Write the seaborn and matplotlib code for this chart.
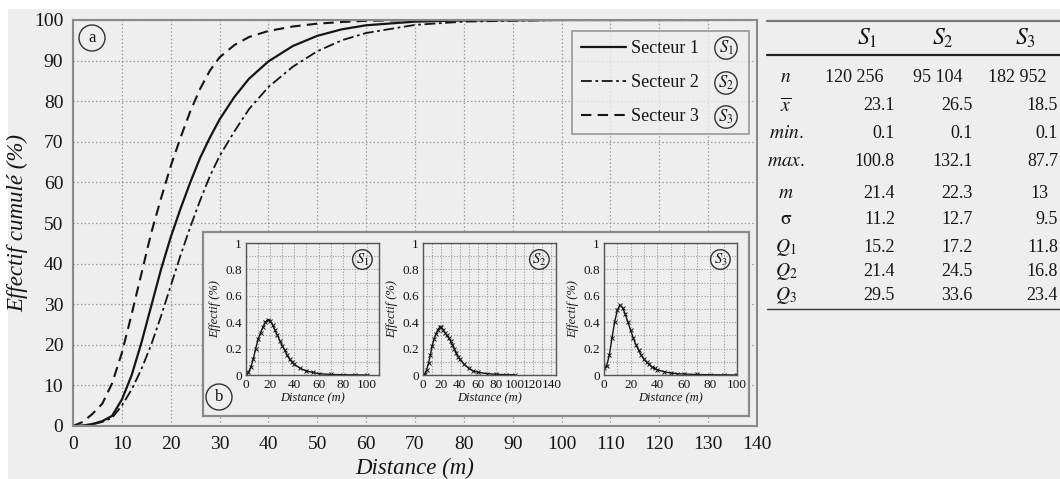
import numpy as np
import pandas as pd
import matplotlib
matplotlib.use("Agg")
import matplotlib.pyplot as plt
import seaborn as sns
from matplotlib.patches import Rectangle
from matplotlib.lines import Line2D

# ---------------- data ----------------
distance = [0, 2, 4, 6, 8, 10, 12, 14, 16, 18, 20, 22, 24, 26, 28, 30, 33, 36, 40,
            45, 50, 55, 60, 70, 80, 100, 130]
cum_s1 = [0, 0.1, 0.5, 1.2, 2.5, 6.5, 12.5, 20.5, 29.5, 38.5, 46.5, 53.5, 60, 66,
          71, 75.5, 81, 85.5, 89.8, 93.6, 96.1, 97.7, 98.7, 99.6, 99.9, 100, 100]
cum_s2 = [0, 0.1, 0.4, 1, 2, 5, 9, 14, 20, 27, 34.5, 42, 49, 55.5, 61.5, 66.5, 72.5,
          78, 83.5, 88.5, 92.3, 95, 96.8, 98.8, 99.6, 100, 100]
cum_s3 = [0, 1, 3, 5.5, 10.5, 18, 27.5, 37.5, 47.5, 56, 64, 71, 77.5, 83, 87.5, 90.8,
          93.8, 95.8, 97.3, 98.4, 99.1, 99.5, 99.8, 100, 100, 100, 100]
series_names = ["Secteur 1", "Secteur 2", "Secteur 3"]

hist_dist = [0, 2, 4, 6, 8, 10, 12, 14, 16, 18, 20, 22, 24, 26, 28, 30, 32, 34, 36,
             38, 40, 45, 50, 55, 60, 70, 80, 90, 100]
eff_s1 = [0, 0.02, 0.06, 0.12, 0.2, 0.27, 0.32, 0.36, 0.4, 0.42, 0.41, 0.38, 0.34,
          0.3, 0.26, 0.22, 0.19, 0.15, 0.12, 0.1, 0.08, 0.05, 0.03, 0.02, 0.01,
          0.004, 0.002, 0.001, 0]
eff_s2 = [0, 0.01, 0.04, 0.09, 0.15, 0.22, 0.27, 0.31, 0.34, 0.36, 0.36, 0.34, 0.32,
          0.3, 0.28, 0.26, 0.23, 0.2, 0.17, 0.14, 0.12, 0.08, 0.05, 0.03, 0.02,
          0.01, 0.005, 0.003, 0.002]
eff_s3 = [0.05, 0.07, 0.15, 0.28, 0.4, 0.49, 0.53, 0.51, 0.46, 0.4, 0.34, 0.28, 0.23,
          0.19, 0.15, 0.12, 0.1, 0.08, 0.06, 0.05, 0.04, 0.025, 0.015, 0.01, 0.007,
          0.004, 0.002, 0.001, 0]

table_cols = [r"$S_1$", r"$S_2$", r"$S_3$"]
table_rows = [r"$n$", r"$\overline{x}$", r"$min.$", r"$max.$", r"$m$", r"$\mathrm{\sigma}$",
              r"$Q_1$", r"$Q_2$", r"$Q_3$"]
n_counts = [120256, 95104, 182952]
means = [23.1, 26.5, 18.5]
mins = [0.1, 0.1, 0.1]
maxs = [100.8, 132.1, 87.7]
medians = [21.4, 22.3, 13]
sigmas = [11.2, 12.7, 9.5]
q1 = [15.2, 17.2, 11.8]
q2 = [21.4, 24.5, 16.8]
q3 = [29.5, 33.6, 23.4]

# ---------------- style ----------------
sns.set_theme(style="white")
plt.rcParams["font.family"] = ["Liberation Serif", "DejaVu Serif"]
plt.rcParams["mathtext.fontset"] = "stix"
BG = "#eeeeee"
GRID = "#9a9a9a"
SPINE = "#8a8a8a"
INK = "#151515"

W, H = 1060, 479
fig = plt.figure(figsize=(W / 100, H / 100), dpi=100)
fig.patch.set_facecolor("white")
fig.add_artist(Rectangle((8 / W, 0), 1, 1 - 9 / H, transform=fig.transFigure,
                         facecolor=BG, edgecolor="none", zorder=-10))


def fx(x):
    return x / W


def fy(y):
    return 1 - y / H


def ax_rect(x0, y0, x1, y1):
    return [fx(x0), fy(y1), (x1 - x0) / W, (y1 - y0) / H]


# ---------------- main axes ----------------
ax = fig.add_axes(ax_rect(73, 20, 757, 426))
ax.set_facecolor(BG)
styles = ["-", (0, (6, 2, 1.5, 2)), (0, (5, 3))]
widths = [1.6, 1.3, 1.5]
for vals, name, ls, lw in zip([cum_s1, cum_s2, cum_s3], series_names, styles, widths):
    sns.lineplot(x=distance, y=vals, ax=ax, color=INK, linestyle=ls, linewidth=lw,
                 label=name)
ax.set_xlim(0, 140)
ax.set_ylim(0, 100)
ax.set_xticks(np.arange(0, 141, 10))
ax.set_yticks(np.arange(0, 101, 10))
ax.tick_params(length=0, labelsize=14, pad=7, colors=INK)
ax.grid(True, linestyle=(0, (1.2, 1.8)), color=GRID, linewidth=0.9)
for s in ax.spines.values():
    s.set_color(SPINE)
    s.set_linewidth(1.5)
ax.set_xlabel("Distance (m)", fontsize=16.5, style="italic", color=INK, labelpad=4)
ax.set_ylabel("Effectif cumulé (%)", fontsize=16.5, style="italic", color=INK,
              labelpad=4)

leg = ax.legend(loc="upper left", bbox_to_anchor=(0.7295, 0.709, 0.2585, 0.264),
                mode="expand", borderaxespad=0, fontsize=13, handlelength=2.5,
                handletextpad=0.25, labelspacing=0.94, borderpad=0.5, fancybox=False,
                frameon=True)
leg.get_frame().set_facecolor(BG)
leg.get_frame().set_edgecolor(SPINE)
leg.get_frame().set_linewidth(1.3)
for t in leg.get_texts():
    t.set_color(INK)
for lab, yy in zip(table_cols, [48, 83, 117]):
    fig.text(fx(726), fy(yy), lab, fontsize=12, ha="center", va="center", color=INK,
             bbox=dict(boxstyle="circle,pad=0.12", fc="none", ec="#333333", lw=1.0))

fig.text(fx(92), fy(38), "a", fontsize=12, ha="center", va="center", color=INK,
         bbox=dict(boxstyle="circle,pad=0.3", fc="none", ec="#333333", lw=1.0))

# ---------------- inset frame ----------------
box = fig.add_axes(ax_rect(203, 232, 749, 416))
box.set_facecolor(BG)
box.set_xticks([])
box.set_yticks([])
for s in box.spines.values():
    s.set_color(SPINE)
    s.set_linewidth(1.6)
fig.text(fx(219), fy(397), "b", fontsize=12, ha="center", va="center", color=INK,
         bbox=dict(boxstyle="circle,pad=0.3", fc="none", ec="#333333", lw=1.0))

insets = [
    (246, eff_s1, 110, np.arange(0, 101, 20), table_cols[0]),
    (423, eff_s2, 145, np.arange(0, 141, 20), table_cols[1]),
    (604, eff_s3, 100, np.arange(0, 101, 20), table_cols[2]),
]
for x0, vals, xmax, xt, lab in insets:
    a = fig.add_axes(ax_rect(x0, 243, x0 + 133, 375))
    a.set_facecolor(BG)
    sns.lineplot(x=hist_dist, y=vals, ax=a, color=INK, linewidth=1.0, marker="x",
                 markersize=3.5, markeredgewidth=0.7, markeredgecolor=INK)
    a.set_xlim(0, xmax)
    a.set_ylim(0, 1)
    a.set_xticks(xt)
    a.set_xticks(np.arange(0, xmax + 0.1, 10), minor=True)
    a.set_yticks([0, 0.2, 0.4, 0.6, 0.8, 1.0])
    a.set_yticklabels(["0", "0.2", "0.4", "0.6", "0.8", "1"])
    a.set_yticks(np.arange(0, 1.01, 0.1), minor=True)
    a.tick_params(which="both", length=0, labelsize=9.5, pad=3, colors=INK)
    a.grid(True, which="both", linestyle=(0, (1, 1.5)), color=GRID, linewidth=0.8)
    for s in a.spines.values():
        s.set_color("#555555")
        s.set_linewidth(1.0)
    a.set_xlabel("Distance (m)", fontsize=9, style="italic", color=INK, labelpad=1)
    a.set_ylabel("Effectif (%)", fontsize=9, style="italic", color=INK, labelpad=3)
    a.text(0.875, 0.875, lab, transform=a.transAxes, fontsize=10.5, ha="center",
           va="center", color=INK,
           bbox=dict(boxstyle="circle,pad=0.12", fc="none", ec="#333333", lw=1.0))

# ---------------- table ----------------
fig.add_artist(Line2D([fx(767), fx(1060)], [fy(21), fy(21)], color="#777777", lw=1.6,
                      transform=fig.transFigure))
fig.add_artist(Line2D([fx(767), fx(1060)], [fy(55), fy(55)], color="#222222", lw=1.6,
                      transform=fig.transFigure))
fig.add_artist(Line2D([fx(767), fx(1060)], [fy(309), fy(309)], color="#333333", lw=1.0,
                      transform=fig.transFigure))

for lab, xc in zip(table_cols, [867, 943, 1025]):
    fig.text(fx(xc), fy(38), lab, fontsize=17, ha="center", va="center", color=INK)

row_y = [78, 106, 133, 162, 193, 220, 247, 271, 296]
for lab, yy in zip(table_rows, row_y):
    fig.text(fx(786), fy(yy), lab, fontsize=14, ha="center", va="center", color=INK)

right_x = [895, 973, 1058]
n_left = [825, 913, 988]
for j in range(3):
    s = f"{n_counts[j]:,}".replace(",", " ")
    fig.text(fx(n_left[j]), fy(row_y[0]), s, fontsize=13, ha="left", va="center",
             color=INK)
value_rows = [means, mins, maxs, medians, sigmas, q1, q2, q3]
for vals, yy in zip(value_rows, row_y[1:]):
    for j, v in enumerate(vals):
        if float(v).is_integer():
            fig.text(fx(right_x[j] - 28), fy(yy), f"{v:g}", fontsize=13, ha="left",
                     va="center", color=INK)
        else:
            fig.text(fx(right_x[j]), fy(yy), f"{v:g}", fontsize=13, ha="right",
                     va="center", color=INK)

fig.savefig("out.png", dpi=100, facecolor=fig.get_facecolor())
